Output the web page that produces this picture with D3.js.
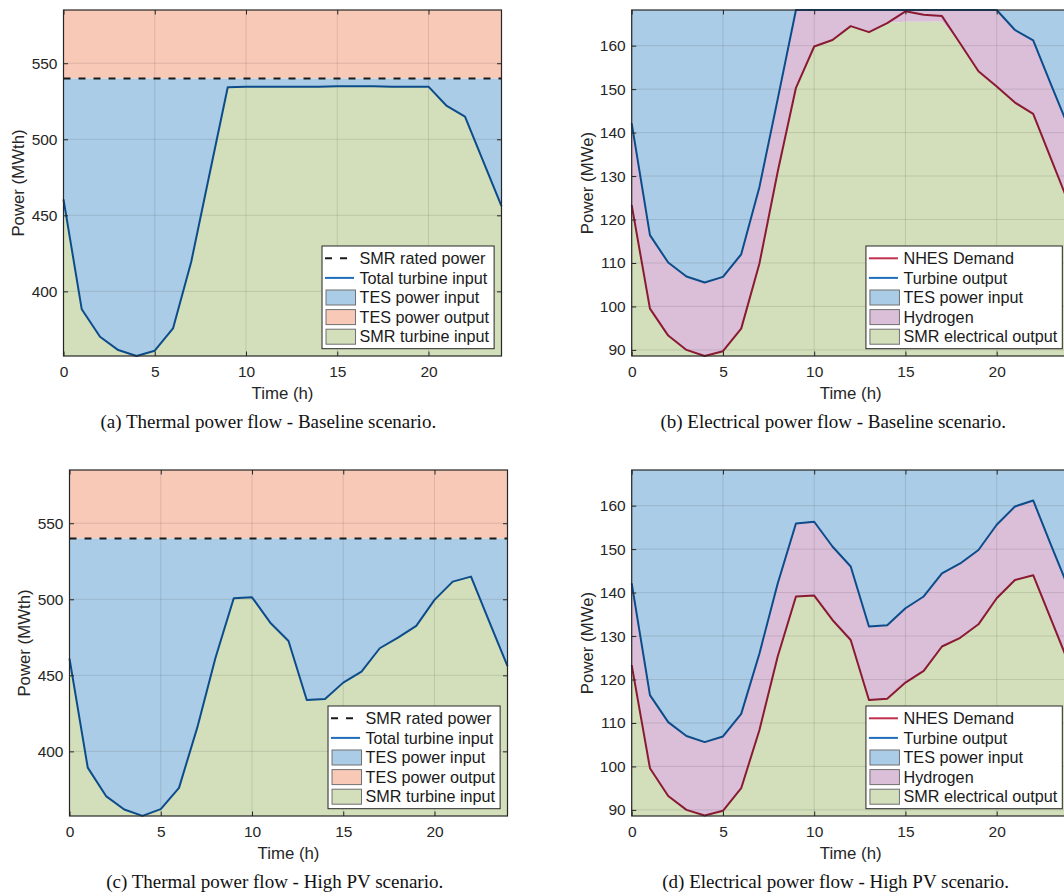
<!DOCTYPE html>
<html><head><meta charset="utf-8">
<script src="https://cdn.jsdelivr.net/npm/d3@7/dist/d3.min.js"></script>
<style>body{margin:0;background:#fff} svg{display:block}</style>
</head><body><svg id="c" width="1064" height="892"></svg>
<script>
// ---------------- data ----------------
const hours = [0,1,2,3,4,5,6,7,8,9,10,11,12,13,14,15,16,17,18,19,20,21,22,23,24];
const xTicks = [0,5,10,15,20];
const thermalTicks = [400,450,500,550];
const elecTicks = [90,100,110,120,130,140,150,160];
const smrRatedPower = 540;
const thermalRange = [357.5, 585];
const elecRange = [88.6, 168.2];

// (a) Baseline thermal: total turbine input (MWth)
const turbineInputBaseline = [460.5,388.2,370.2,361.4,357.5,361.0,375.6,419.5,477.0,534.2,534.5,534.5,534.5,534.5,534.6,534.8,534.8,534.8,534.6,534.6,534.6,521.9,514.9,485.5,456.0];
// (c) High PV thermal: total turbine input (MWth)
const turbineInputHighPV = [461.0,389.3,370.6,361.8,357.6,362.0,376.0,415.6,461.6,500.7,501.3,484.6,472.6,433.8,434.4,445.2,452.4,467.8,474.8,482.5,499.6,511.6,514.9,485.3,456.1];

// (b) Baseline electrical (MWe)
const turbineOutputBaseline = [142.1,116.4,110.1,106.9,105.5,106.8,112.0,127.5,147.7,168.2,168.2,168.2,168.2,168.2,168.2,168.2,168.2,168.2,168.2,168.2,168.2,163.6,161.2,150.8,140.6];
const demandBaseline = [123.3,99.5,93.3,90.0,88.6,89.7,94.9,109.9,131.0,150.3,159.8,161.3,164.5,163.1,165.2,167.9,167.1,166.8,160.5,154.1,150.6,146.9,144.3,133.7,123.2];
const smrElecBaseline = [123.3,99.5,93.3,90.0,88.6,89.7,94.9,109.9,131.0,150.3,159.8,161.3,164.5,163.1,165.2,165.5,165.5,165.5,160.5,154.1,150.6,146.9,144.3,133.7,123.2];

// (d) High PV electrical (MWe)
const turbineOutputHighPV = [142.1,116.4,110.2,107.0,105.6,106.9,112.1,126.0,142.1,155.9,156.3,150.6,146.0,132.2,132.5,136.4,139.1,144.4,146.7,149.8,155.6,159.8,161.2,150.7,140.4];
const demandHighPV = [123.3,99.6,93.2,90.0,88.7,89.8,95.0,108.4,125.3,139.1,139.3,133.7,129.1,115.3,115.6,119.3,122.0,127.6,129.6,132.7,138.7,142.9,144.0,133.6,123.2];
const smrElecHighPV = [123.3,99.6,93.2,90.0,88.7,89.8,95.0,108.4,125.3,139.1,139.3,133.7,129.1,115.3,115.6,119.3,122.0,127.6,129.6,132.7,138.7,142.9,144.0,133.6,123.2];

const thermalLegend = ["SMR rated power","Total turbine input","TES power input","TES power output","SMR turbine input"];
const elecLegend = ["NHES Demand","Turbine output","TES power input","Hydrogen","SMR electrical output"];
const captions = ["(a) Thermal power flow - Baseline scenario.","(b) Electrical power flow - Baseline scenario.","(c) Thermal power flow - High PV scenario.","(d) Electrical power flow - High PV scenario."];

// ---------------- style ----------------
const C = {
  green:"#d3dfbb", blue:"#abcce6", salmon:"#f8c9b7", pink:"#dbbfd9",
  navy:"#0d4c8a", navyLeg:"#1f6cb8", red:"#8a1a33", redLeg:"#c0304c",
  axis:"#262626"
};
const SANS = "'Liberation Sans', Arial, Helvetica, sans-serif";
const SERIF = "'Liberation Serif', 'Times New Roman', serif";

const svg = d3.select("#c");

const panels = [
  {kind:"thermal", left:63.5, right:501.5, top:10, bottom:356, capX:268.3, capY:421.7, turbine:turbineInputBaseline, ylabel:"Power (MWth)"},
  {kind:"elec", left:631.7, right:1069.7, top:10, bottom:356, capX:833.2, capY:421.7, turbine:turbineOutputBaseline, demand:demandBaseline, smr:smrElecBaseline, ylabel:"Power (MWe)"},
  {kind:"thermal", left:69.5, right:507.5, top:470, bottom:816, capX:274.7, capY:881.7, turbine:turbineInputHighPV, ylabel:"Power (MWth)"},
  {kind:"elec", left:631.7, right:1069.7, top:470, bottom:816, capX:835.7, capY:881.7, turbine:turbineOutputHighPV, demand:demandHighPV, smr:smrElecHighPV, ylabel:"Power (MWe)"}
];

panels.forEach((p, pi) => {
  const g = svg.append("g");
  const x = d3.scaleLinear().domain([0,24]).range([p.left, p.right]);
  const isT = p.kind === "thermal";
  const y = d3.scaleLinear().domain(isT ? thermalRange : elecRange).range([p.bottom, p.top]);
  const yMin = y.domain()[0], yMax = y.domain()[1];
  const idx = hours.map((h,i)=>i);

  const area = (lo, hi) => d3.area().x(i=>x(hours[i])).y0(i=>y(lo(i))).y1(i=>y(hi(i)));
  const line = (f) => d3.line().x(i=>x(hours[i])).y(i=>y(f(i)));

  if (isT) {
    g.append("path").attr("d", area(()=>smrRatedPower, ()=>yMax)(idx)).attr("fill", C.salmon);
    g.append("path").attr("d", area(i=>p.turbine[i], ()=>smrRatedPower)(idx)).attr("fill", C.blue);
    g.append("path").attr("d", area(()=>yMin, i=>p.turbine[i])(idx)).attr("fill", C.green);
  } else {
    g.append("path").attr("d", area(i=>p.turbine[i], ()=>yMax)(idx)).attr("fill", C.blue);
    g.append("path").attr("d", area(i=>p.smr[i], i=>p.turbine[i])(idx)).attr("fill", C.pink);
    g.append("path").attr("d", area(()=>yMin, i=>p.smr[i])(idx)).attr("fill", C.green);
  }

  // grid
  const gridG = g.append("g").attr("stroke", C.axis).attr("stroke-opacity", 0.13).attr("stroke-width", 1);
  xTicks.forEach(t => gridG.append("line").attr("x1", x(t)).attr("x2", x(t)).attr("y1", p.top).attr("y2", p.bottom));
  (isT ? thermalTicks : elecTicks).forEach(t => gridG.append("line").attr("x1", p.left).attr("x2", p.right).attr("y1", y(t)).attr("y2", y(t)));

  // lines
  if (isT) {
    g.append("path").attr("d", line(i=>p.turbine[i])(idx)).attr("fill","none").attr("stroke", C.navy).attr("stroke-width", 2).attr("stroke-linejoin","round");
    g.append("line").attr("x1", x(0)).attr("x2", x(24)).attr("y1", y(smrRatedPower)).attr("y2", y(smrRatedPower))
      .attr("stroke", "#1a1a1a").attr("stroke-width", 2).attr("stroke-dasharray", "7,8");
  } else {
    g.append("path").attr("d", line(i=>p.demand[i])(idx)).attr("fill","none").attr("stroke", C.red).attr("stroke-width", 2).attr("stroke-linejoin","round");
    g.append("path").attr("d", line(i=>p.turbine[i])(idx)).attr("fill","none").attr("stroke", C.navy).attr("stroke-width", 2).attr("stroke-linejoin","round");
  }

  // axes
  const tickLen = 4.5;
  const yT = isT ? thermalTicks : elecTicks;
  const ax = (sel) => { sel.select(".domain").remove(); sel.selectAll("line").attr("stroke", C.axis); sel.selectAll("text").attr("fill", C.axis).style("font-family", SANS); };
  g.append("g").attr("transform", `translate(0,${p.bottom})`)
    .call(d3.axisBottom(x).tickValues(xTicks).tickSize(-tickLen).tickPadding(10).tickFormat(d3.format("d")))
    .call(ax).selectAll("text").style("font-size","15.5px");
  g.append("g").attr("transform", `translate(0,${p.top})`)
    .call(d3.axisTop(x).tickValues(xTicks).tickSize(-tickLen).tickFormat("")).call(ax);
  g.append("g").attr("transform", `translate(${p.left},0)`)
    .call(d3.axisLeft(y).tickValues(yT).tickSize(-tickLen).tickPadding(6).tickFormat(d3.format("d")))
    .call(ax).selectAll("text").style("font-size","15.5px");
  g.append("g").attr("transform", `translate(${p.right},0)`)
    .call(d3.axisRight(y).tickValues(yT).tickSize(-tickLen).tickFormat("")).call(ax);
  g.selectAll(".tick text").attr("fill", C.axis);

  g.append("rect").attr("x", p.left).attr("y", p.top).attr("width", p.right-p.left).attr("height", p.bottom-p.top)
    .attr("fill","none").attr("stroke", C.axis).attr("stroke-width", 1.2);

  // axis labels
  g.append("text").attr("x", (p.left+p.right)/2).attr("y", p.bottom+37.3).attr("dy","0.35em")
    .attr("text-anchor","middle").style("font-family",SANS).style("font-size","16.8px").attr("fill",C.axis).text("Time (h)");
  g.append("text").attr("transform", `translate(${p.left-45},${(p.top+p.bottom)/2}) rotate(-90)`).attr("dy","0.35em")
    .attr("text-anchor","middle").style("font-family",SANS).style("font-size","16.8px").attr("fill",C.axis).text(p.ylabel);

  // legend
  const labels = isT ? thermalLegend : elecLegend;
  const lg = g.append("g");
  const box = lg.append("rect").attr("fill","#fff").attr("stroke", C.axis).attr("stroke-width", 1);
  const rowH = 19.6, textX = 37.5;
  const texts = labels.map((l,k) => lg.append("text").attr("x", textX).attr("y", 12.3 + k*rowH).attr("dy","0.35em")
    .style("font-family",SANS).style("font-size","16.2px").attr("fill","#1a1a1a").text(l));
  const maxW = d3.max(texts, t => t.node().getComputedTextLength());
  const bw = textX + maxW + 5, bh = 102.7;
  box.attr("x",0).attr("y",0).attr("width", bw).attr("height", bh);
  lg.attr("transform", `translate(${p.right-7.4-bw},${p.bottom-7.3-bh})`);
  const sampleRow = (k, kind, color) => {
    const cy = 12.3 + k*rowH;
    if (kind === "dash") lg.append("line").attr("x1",3).attr("x2",32).attr("y1",cy).attr("y2",cy).attr("stroke","#1a1a1a").attr("stroke-width",2).attr("stroke-dasharray","7,8");
    else if (kind === "line") lg.append("line").attr("x1",3).attr("x2",32).attr("y1",cy).attr("y2",cy).attr("stroke",color).attr("stroke-width",2);
    else lg.append("rect").attr("x",4).attr("y",cy-7.5).attr("width",29.5).attr("height",15).attr("fill",color).attr("stroke","#707070").attr("stroke-width",1);
  };
  if (isT) {
    sampleRow(0,"dash"); sampleRow(1,"line",C.navyLeg); sampleRow(2,"patch",C.blue); sampleRow(3,"patch",C.salmon); sampleRow(4,"patch",C.green);
  } else {
    sampleRow(0,"line",C.redLeg); sampleRow(1,"line",C.navyLeg); sampleRow(2,"patch",C.blue); sampleRow(3,"patch",C.pink); sampleRow(4,"patch",C.green);
  }

  // caption
  svg.append("text").attr("x", p.capX).attr("y", p.capY).attr("dy","0.32em").attr("text-anchor","middle")
    .style("font-family",SERIF).style("font-size","19px").attr("fill","#111").text(captions[pi]);
});
</script>
</body></html>
